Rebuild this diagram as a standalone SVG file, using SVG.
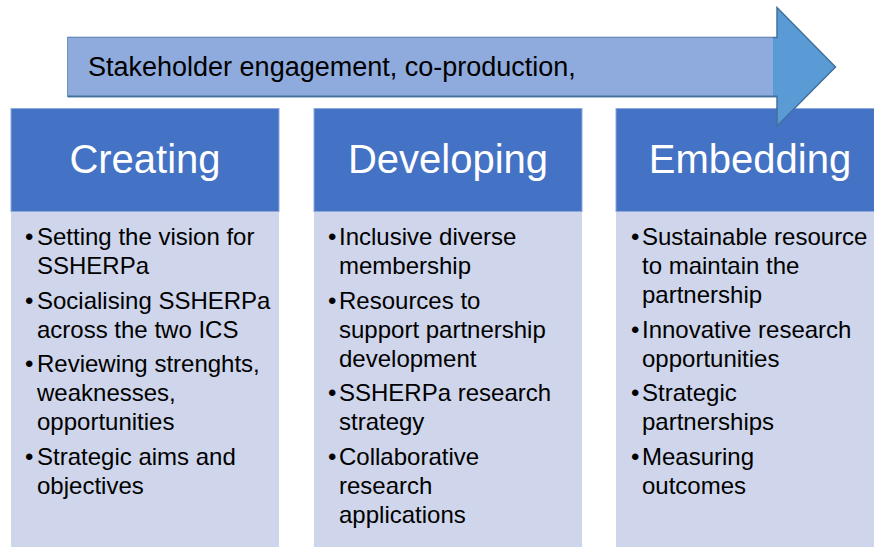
<svg xmlns="http://www.w3.org/2000/svg" width="874" height="547" viewBox="0 0 874 547">
<style>
.hdr{fill:#4472C4;stroke:#8EA9DB;stroke-width:1}
.body{fill:#CFD5EA}
.ht{font-family:"Liberation Sans",Arial,sans-serif;font-size:40px;fill:#FFFFFF;text-anchor:middle}
.bt{font-family:"Liberation Sans",Arial,sans-serif;font-size:24px;fill:#000000}
.at{font-family:"Liberation Sans",Arial,sans-serif;font-size:27px;fill:#000000}
</style>
<rect width="874" height="547" fill="#FFFFFF"/>
<g id="creating">
<rect class="body" x="11" y="211" width="268" height="336"/>
<rect class="hdr" x="11" y="108.5" width="268" height="103"/>
<text class="ht" x="145" y="173">Creating</text>
<text class="bt"><tspan x="25" y="245">•</tspan><tspan x="37" y="245">Setting the vision for</tspan><tspan x="37" y="274">SSHERPa</tspan><tspan x="25" y="309">•</tspan><tspan x="37" y="309">Socialising SSHERPa</tspan><tspan x="37" y="338">across the two ICS</tspan><tspan x="25" y="372">•</tspan><tspan x="37" y="372">Reviewing strenghts,</tspan><tspan x="37" y="401">weaknesses,</tspan><tspan x="37" y="430">opportunities</tspan><tspan x="25" y="465">•</tspan><tspan x="37" y="465">Strategic aims and</tspan><tspan x="37" y="494">objectives</tspan></text>
</g>
<g id="developing">
<rect class="body" x="314" y="211" width="268" height="336"/>
<rect class="hdr" x="314" y="108.5" width="268" height="103"/>
<text class="ht" x="448" y="173">Developing</text>
<text class="bt"><tspan x="328" y="245">•</tspan><tspan x="339" y="245">Inclusive diverse</tspan><tspan x="339" y="274">membership</tspan><tspan x="328" y="309">•</tspan><tspan x="339" y="309">Resources to</tspan><tspan x="339" y="338">support partnership</tspan><tspan x="339" y="367">development</tspan><tspan x="328" y="401">•</tspan><tspan x="339" y="401">SSHERPa research</tspan><tspan x="339" y="430">strategy</tspan><tspan x="328" y="465">•</tspan><tspan x="339" y="465">Collaborative</tspan><tspan x="339" y="494">research</tspan><tspan x="339" y="523">applications</tspan></text>
</g>
<g id="embedding">
<rect class="body" x="616" y="211" width="270" height="336"/>
<rect class="hdr" x="616" y="108.5" width="270" height="103"/>
<text class="ht" x="750" y="173">Embedding</text>
<text class="bt"><tspan x="631" y="245">•</tspan><tspan x="642" y="245">Sustainable resource</tspan><tspan x="642" y="274">to maintain the</tspan><tspan x="642" y="303">partnership</tspan><tspan x="631" y="338">•</tspan><tspan x="642" y="338">Innovative research</tspan><tspan x="642" y="367">opportunities</tspan><tspan x="631" y="401">•</tspan><tspan x="642" y="401">Strategic</tspan><tspan x="642" y="430">partnerships</tspan><tspan x="631" y="465">•</tspan><tspan x="642" y="465">Measuring</tspan><tspan x="642" y="494">outcomes</tspan></text>
</g>
<g id="arrow">
<polygon points="68,37.5 777,37.5 777,7.5 835.5,67 777,126 777,96.5 68,96.5" fill="#5B9BD5" stroke="#41719C" stroke-width="1.5" stroke-linejoin="miter"/>
<rect x="68" y="37.5" width="705" height="58" fill="#8FAADC"/>
<line x1="68" y1="96.5" x2="777" y2="96.5" stroke="#41719C" stroke-width="1.5"/>
<text class="at" x="88" y="76">Stakeholder engagement, co-production,</text>
</g>
</svg>
